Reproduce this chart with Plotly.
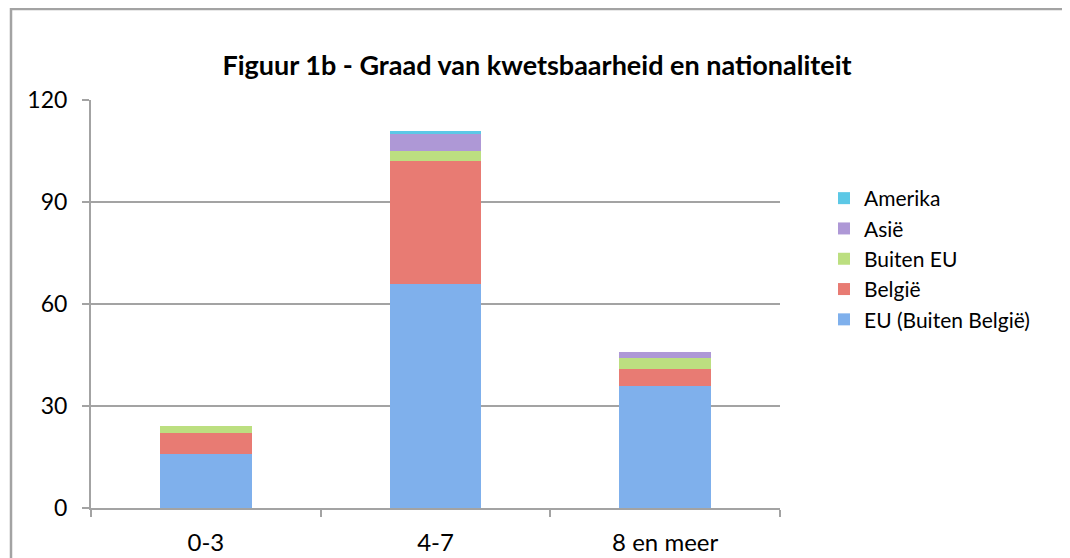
import plotly.graph_objects as go

categories = ["0-3", "4-7", "8 en meer"]
eu_buiten_belgie = [16, 66, 36]
belgie = [6, 36, 5]
buiten_eu = [2, 3, 3]
asie = [0, 5, 2]
amerika = [0, 1, 0]

series = [
    ("EU (Buiten België)", eu_buiten_belgie, "#7fb0ec"),
    ("België", belgie, "#e87b73"),
    ("Buiten EU", buiten_eu, "#bcdf80"),
    ("Asië", asie, "#ae98d6"),
    ("Amerika", amerika, "#5cc8e6"),
]

FONT = "Lato"
fig = go.Figure()
for name, vals, col in series:
    fig.add_trace(go.Bar(
        x=categories, y=vals, name=name,
        marker=dict(color=col, line=dict(width=0)),
        width=0.4,
    ))

# page body has an 8px offset; figure coordinates = screen - 8
L, T, PW, PH = 83, 92, 689, 408
W, H = 1070, 558
grid = "#a3a3a3"


def px(x):
    return (x - L) / PW


def py(y):
    return (T + PH - y) / PH


fig.update_layout(
    template="none",
    width=W, height=H,
    barmode="stack",
    plot_bgcolor="white", paper_bgcolor="white",
    margin=dict(l=L, r=W - L - PW, t=T, b=H - T - PH, autoexpand=False),
    font=dict(family=FONT, size=21, color="#000000"),
    title=dict(text="<b>Figuur 1b - Graad van kwetsbaarheid en nationaliteit</b>",
               x=529 / W, xanchor="center", y=1 - 58 / H, yanchor="middle",
               font=dict(family=FONT, size=27, color="#000000")),
    legend=dict(x=px(816), xanchor="left", y=py(170), yanchor="top",
                traceorder="reversed", font=dict(size=21),
                bgcolor="rgba(0,0,0,0)", borderwidth=0,
                itemclick=False, tracegroupgap=0),
    showlegend=True,
    shapes=[dict(type="line", xref="paper", yref="paper",
                 x0=px(3), x1=px(1075), y0=py(1), y1=py(1),
                 line=dict(color=grid, width=2.5)),
            dict(type="line", xref="paper", yref="paper",
                 x0=px(3), x1=px(3), y0=py(0), y1=py(600),
                 line=dict(color=grid, width=2.5))],
)
fig.update_yaxes(range=[0, 120], tickvals=[0, 30, 60, 90, 120],
                 automargin=False,
                 showgrid=True, gridcolor=grid, gridwidth=2,
                 showline=True, linecolor=grid, linewidth=2,
                 ticks="outside", ticklen=7, tickcolor=grid, tickwidth=2,
                 ticklabelstandoff=10, zeroline=False,
                 tickfont=dict(size=23))
fig.update_xaxes(automargin=False, showgrid=False,
                 showline=True, linecolor=grid, linewidth=2,
                 ticks="outside", ticklen=7, tickcolor=grid, tickwidth=2,
                 tickson="boundaries", ticklabelstandoff=12,
                 tickfont=dict(size=24))

fig.write_html("out.html")
